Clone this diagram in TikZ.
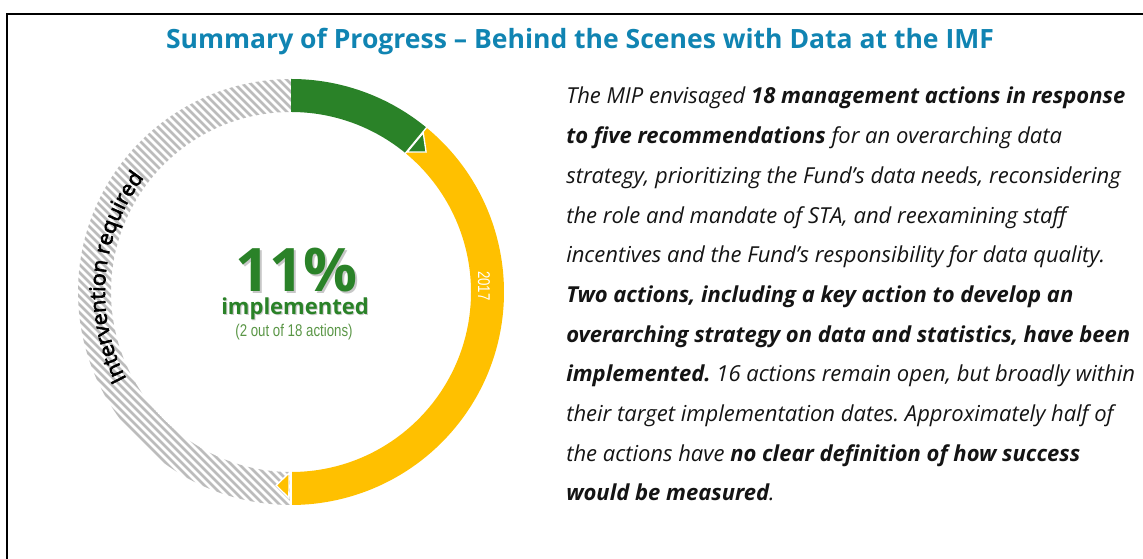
\documentclass[tikz,border=0pt]{standalone}
\usepackage{fontspec}
\setmainfont{Open Sans}
\newfontfamily\narrowf[FakeStretch=0.78]{Liberation Sans}
\newfontfamily\semib[FakeBold=2.8]{Open Sans}
\usetikzlibrary{decorations.text}
\definecolor{ttl}{RGB}{16,132,178}
\definecolor{grn}{RGB}{42,130,40}
\definecolor{ylw}{RGB}{255,192,0}
\definecolor{htch}{RGB}{188,188,188}
\definecolor{lgrn}{RGB}{90,150,70}
\definecolor{ink}{RGB}{20,20,20}
\frenchspacing
\begin{document}
\begin{tikzpicture}[x=0.75pt,y=0.75pt,
  para/.style={anchor=base west, inner sep=0pt, text=ink, font=\itshape\fontsize{16.5}{19}\selectfont},
  ttlstyle/.style={anchor=base, inner sep=0pt, text=ttl, font=\bfseries\fontsize{19.9}{22}\selectfont},
  sep/.style={white, line width=1pt}]
\useasboundingbox (0,0) rectangle (1143,559);
% frame
\draw[line width=1.6pt] (7,0) -- (7,545.3) -- (1143,545.3);
% title
\node (title) [ttlstyle] at (580,510) {Summary of Progress – Behind the Scenes with Data at the IMF};
% ring
\begin{scope}[shift={(291,267)}]
  \begin{scope}
    \clip (90:213) arc[start angle=90,end angle=270,radius=213] -- (270:180) arc[start angle=270,end angle=90,radius=180] -- cycle;
    \foreach \c in {-480,-472,...,480} \draw[htch, line width=2.1pt] (\c-300,300) -- (\c+300,-300);
  \end{scope}
  \fill[grn] (90:213) arc[start angle=90,end angle=50.5,radius=213] -- (50.5:180) arc[start angle=50.5,end angle=90,radius=180] -- cycle;
  \fill[ylw] (50.5:213) arc[start angle=50.5,end angle=-90,radius=213] -- (-90:180) arc[start angle=-90,end angle=50.5,radius=180] -- cycle;
  \draw[sep] (50.5:179) -- (50.5:214);
  \draw[sep] (-90:179) -- (-90:214);
  \filldraw[fill=grn, draw=white, line width=1pt] (50.3:182) -- (50.3:207) -- (46:194.5) -- cycle;
  \filldraw[fill=ylw, draw=white, line width=1pt] (-90.6:181) -- (-90.6:206) -- (-94.4:194) -- cycle;
  \path[decorate, decoration={text along path, text align=center,
     text={|\semib\fontsize{16}{16}\selectfont|Intervention required}}]
     (215:186) arc[start angle=215,end angle=135,radius=186];
\end{scope}
% centre texts
\node (pctsh) [anchor=base, inner sep=0pt, text=black!22, font=\bfseries\fontsize{45}{45}\selectfont] at (298.3,265.2) {11\%};
\node (pct) [anchor=base, inner sep=0pt, text=grn, font=\bfseries\fontsize{45}{45}\selectfont] at (296.5,267) {11\%};
\node (implsh) [anchor=base, inner sep=0pt, text=black!20, font=\bfseries\fontsize{16.5}{16.5}\selectfont] at (296.1,243) {implemented};
\node (impl) [anchor=base, inner sep=0pt, text=grn, font=\bfseries\fontsize{16.5}{16.5}\selectfont] at (295,244) {implemented};
\node (count) [anchor=base, inner sep=0pt, text=lgrn, font=\narrowf\fontsize{12.75}{12.75}\selectfont] at (294,222) {(2 out of 18 actions)};
\node (yr) [inner sep=0pt, text=white, rotate=-90, font=\narrowf\fontsize{12.75}{12.75}\selectfont] at (484,273) {2017};
% paragraph
\node (l1) [para] at (566,455) {The MIP envisaged \textbf{18 management actions in response}};
\node (l2) [para] at (566,415.3) {\textbf{to five recommendations} for an overarching data};
\node (l3) [para] at (566,375.6) {strategy, prioritizing the Fund’s data needs, reconsidering};
\node (l4) [para] at (566,335.9) {the role and mandate of STA, and reexamining staff};
\node (l5) [para] at (566,296.2) {incentives and the Fund’s responsibility for data quality.};
\node (l6) [para] at (566,256.5) {\textbf{Two actions, including a key action to develop an}};
\node (l7) [para] at (566,216.8) {\textbf{overarching strategy on data and statistics, have been}};
\node (l8) [para] at (566,177.1) {\textbf{implemented.} 16 actions remain open, but broadly within};
\node (l9) [para] at (566,137.4) {their target implementation dates. Approximately half of};
\node (l10) [para] at (566,97.7) {the actions have \textbf{no clear definition of how success}};
\node (l11) [para] at (566,58) {\textbf{would be measured}.};
\end{tikzpicture}
\end{document}
